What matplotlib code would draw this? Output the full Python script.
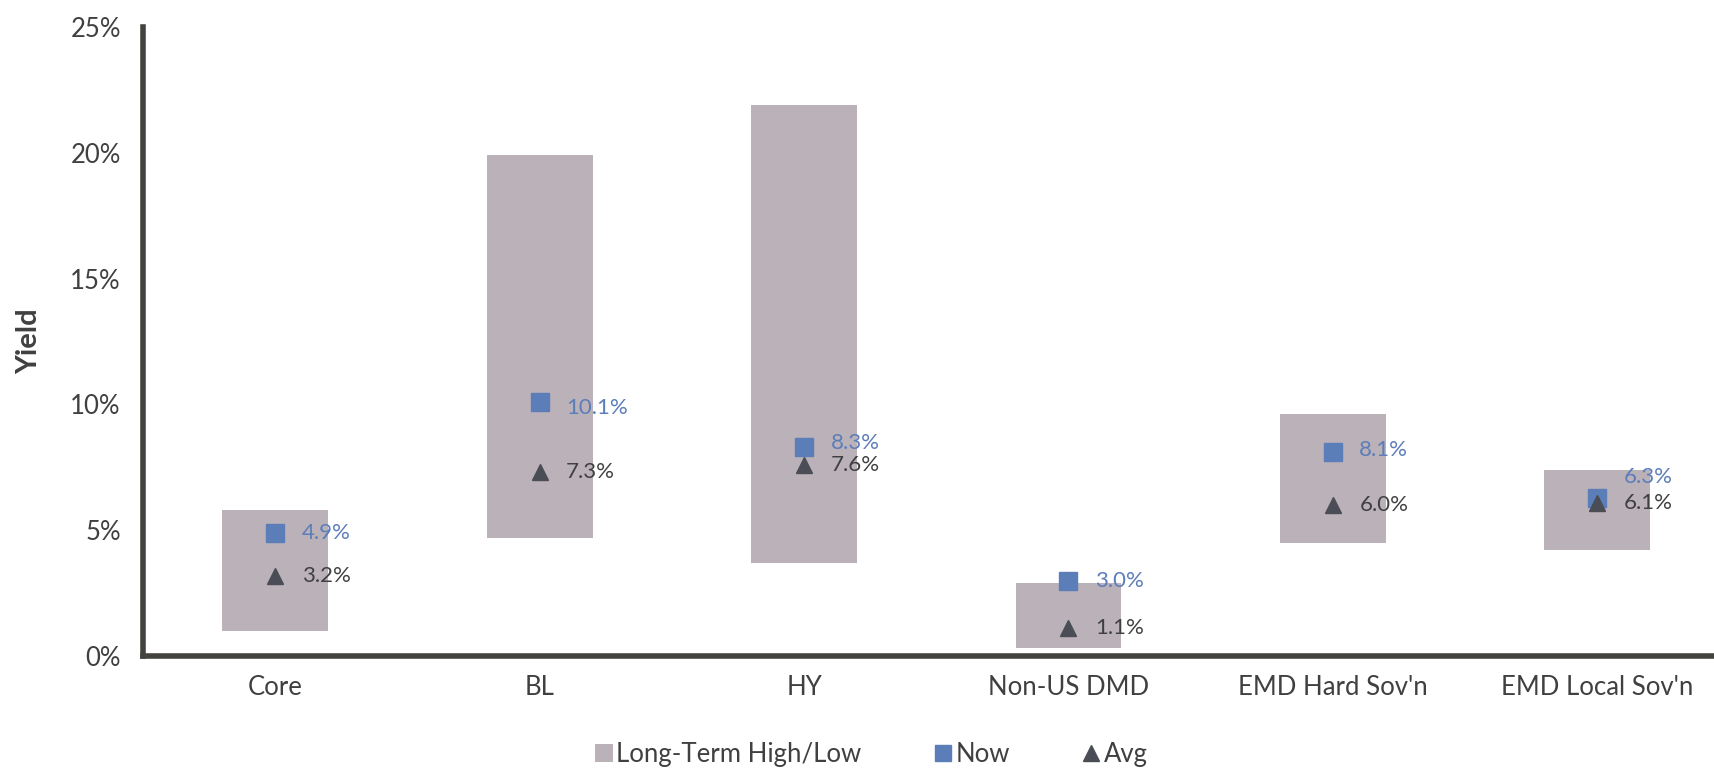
import matplotlib
matplotlib.use("Agg")
import matplotlib.pyplot as plt
from matplotlib.lines import Line2D
from matplotlib.patches import Patch

categories = ["Core", "BL", "HY", "Non-US DMD", "EMD Hard Sov'n", "EMD Local Sov'n"]
high = [5.8, 19.9, 21.9, 2.9, 9.6, 7.4]
low = [1.0, 4.7, 3.7, 0.3, 4.5, 4.2]
now = [4.9, 10.1, 8.3, 3.0, 8.1, 6.3]
avg = [3.2, 7.3, 7.6, 1.1, 6.0, 6.1]
yticks = [0, 5, 10, 15, 20, 25]

# label vertical nudges (style only)
now_label_dy = [0.0, -0.25, 0.15, 0.0, 0.1, 0.8]
avg_label_dy = [0.0, 0.0, 0.0, 0.0, 0.0, 0.0]

plt.rcParams['font.family'] = ['Lato', 'DejaVu Sans']

BAR = "#BBB1B9"
NOW = "#5B7DB8"
AVG = "#4A4D55"
AX = "#43423E"
TXT = "#404040"

fig = plt.figure(figsize=(17.15, 7.68), dpi=100)
ax = fig.add_axes([0.0834, 0.1458, 0.925, 0.819])

x = list(range(len(categories)))
ax.bar(x, [h - l for h, l in zip(high, low)], bottom=low, width=0.4, color=BAR, zorder=1)
ax.plot(x, now, linestyle="none", marker="s", markersize=13, color=NOW, zorder=3)
ax.plot(x, avg, linestyle="none", marker="^", markersize=12, color=AVG, zorder=4)

for i in x:
    ax.text(i + 0.1, now[i] + now_label_dy[i], f"{now[i]:.1f}%", color=NOW, fontsize=16,
            ha="left", va="center", zorder=5)
    ax.text(i + 0.1, avg[i] + avg_label_dy[i], f"{avg[i]:.1f}%", color=TXT, fontsize=16,
            ha="left", va="center", zorder=5)

ax.set_xlim(-0.5, len(categories) - 0.5)
ax.set_ylim(0, 25)
ax.set_yticks(yticks)
ax.set_yticklabels([f"{v}%" for v in yticks])
ax.set_xticks(x)
ax.set_xticklabels(categories)
ax.tick_params(axis="both", length=0, labelsize=18.5, labelcolor=TXT)
ax.tick_params(axis="y", pad=16)
ax.tick_params(axis="x", pad=14)
for s in ["top", "right"]:
    ax.spines[s].set_visible(False)
for s in ["left", "bottom"]:
    ax.spines[s].set_color(AX)
    ax.spines[s].set_linewidth(4)
ax.set_ylabel("Yield", fontsize=21, fontweight="bold", color=TXT, labelpad=20)

handles = [
    Patch(facecolor=BAR, edgecolor="none", label="Long-Term High/Low"),
    Line2D([], [], linestyle="none", marker="s", markersize=12, color=NOW, label="Now"),
    Line2D([], [], linestyle="none", marker="^", markersize=12, color=AVG, label="Avg"),
]
leg = fig.legend(handles=handles, loc="center", bbox_to_anchor=(0.508, 0.017), ncol=3,
                 frameon=False, fontsize=18.5, handlelength=0.7, handleheight=0.7,
                 handletextpad=0.15, columnspacing=2.8)
for t in leg.get_texts():
    t.set_color(TXT)

fig.savefig("out.png", dpi=100)
